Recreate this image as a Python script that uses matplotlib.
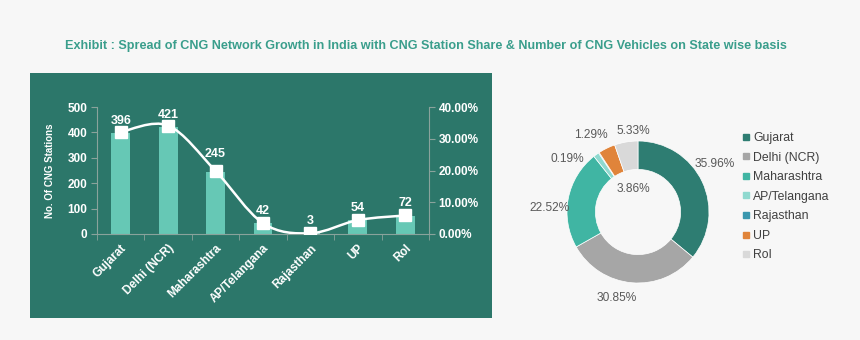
import matplotlib.pyplot as plt
import numpy as np
from matplotlib.path import Path
from matplotlib.patches import PathPatch, Rectangle
from matplotlib.lines import Line2D

# Bar chart data (CNG stations)
states = ["Gujarat", "Delhi (NCR)", "Maharashtra", "AP/Telangana", "Rajasthan", "UP", "RoI"]
stations = [396, 421, 245, 42, 3, 54, 72]
station_share = [32.12, 34.14, 19.87, 3.41, 0.24, 4.38, 5.84]

# Donut data (share of CNG vehicles)
vehicle_share = [35.96, 30.85, 22.52, 1.29, 0.19, 3.86, 5.33]
pie_colors = ["#2e7d72", "#a6a6a6", "#40b5a3", "#8fd9cf", "#3a97ae", "#e0843a", "#d9d9d9"]

BG = "#f7f7f7"
PANEL = "#2c776a"
BAR = "#66c8b5"
AXIS = "#8aa39c"

plt.rcParams["font.family"] = ["Liberation Sans", "DejaVu Sans"]

fig = plt.figure(figsize=(8.6, 3.4), dpi=100, facecolor=BG)

fig.text(426 / 860, 1 - 46 / 340,
         "Exhibit : Spread of CNG Network Growth in India with CNG Station Share & Number of CNG Vehicles on State wise basis",
         ha="center", va="center", fontsize=9.1, fontweight="bold", color="#3a9e8c")

# green panel behind the bar chart
fig.patches.append(Rectangle((30 / 860, 1 - 318 / 340), 462 / 860, 245 / 340,
                             transform=fig.transFigure, facecolor=PANEL, edgecolor="none", zorder=-10))

ax = fig.add_axes([97 / 860, 1 - 234 / 340, 332 / 860, 127 / 340])
ax.patch.set_alpha(0)
x = np.arange(len(states))
ax.bar(x, stations, width=0.4, color=BAR, zorder=2)
ax.set_xlim(-0.5, len(states) - 0.5)
ax.set_ylim(0, 500)
ax.set_yticks(range(0, 501, 100))
ax.set_xticks(x)
ax.set_xticklabels(states, rotation=45, ha="right", rotation_mode="anchor",
                   fontsize=8.5, fontweight="bold", color="white")
ax.set_xticks(np.arange(-0.5, len(states), 1), minor=True)
ax.tick_params(axis="x", which="major", length=0, pad=6)
ax.tick_params(axis="x", which="minor", length=4, color=AXIS, direction="out")
ax.tick_params(axis="y", length=4, color=AXIS, labelsize=8.5, labelcolor="white", pad=3)
for lab in ax.get_yticklabels():
    lab.set_fontweight("bold")
ax.set_ylabel("No. Of CNG Stations", fontsize=7, color="white", fontweight="bold", labelpad=9)
for side in ["top", "right"]:
    ax.spines[side].set_visible(False)
ax.spines["left"].set_color(AXIS)
ax.spines["bottom"].set_color(AXIS)

label_offsets = [9, 9, 13, 9, 9, 9, 9]
for xi, v, off in zip(x, stations, label_offsets):
    ax.annotate(str(v), (xi, v), xytext=(0, off), textcoords="offset points",
                ha="center", va="center", fontsize=9, fontweight="bold", color="white", zorder=5)

ax2 = ax.twinx()
ax2.set_ylim(0, 40)
ax2.set_yticks(range(0, 41, 10))
ax2.set_yticklabels([f"{t:.2f}%" for t in range(0, 41, 10)])
ax2.tick_params(axis="y", length=4, color=AXIS, labelsize=8.5, labelcolor="white", pad=3)
for lab in ax2.get_yticklabels():
    lab.set_fontweight("bold")
for side in ["top", "left", "bottom"]:
    ax2.spines[side].set_visible(False)
ax2.spines["right"].set_color(AXIS)

# smoothed line (Catmull-Rom as cubic Bezier segments)
pts = np.column_stack([x, station_share]).astype(float)
verts = [tuple(pts[0])]
codes = [Path.MOVETO]
for i in range(len(pts) - 1):
    p0 = pts[max(i - 1, 0)]
    p1 = pts[i]
    p2 = pts[i + 1]
    p3 = pts[min(i + 2, len(pts) - 1)]
    c1 = p1 + (p2 - p0) / 6
    c2 = p2 - (p3 - p1) / 6
    verts += [tuple(c1), tuple(c2), tuple(p2)]
    codes += [Path.CURVE4] * 3
ax2.add_patch(PathPatch(Path(verts, codes), facecolor="none", edgecolor="white", lw=1.8, zorder=3))
ax2.plot(x, station_share, linestyle="none", marker="s", markersize=8,
         markerfacecolor="white", markeredgecolor="white", zorder=4)

# donut chart
r = 71
pax = fig.add_axes([(638 - r) / 860, 1 - (212 + r) / 340, 2 * r / 860, 2 * r / 340])
pax.pie(vehicle_share, colors=pie_colors, startangle=90, counterclock=False, radius=1,
        wedgeprops=dict(width=0.4, edgecolor="white", linewidth=0.5))
pax.set_xlim(-1, 1)
pax.set_ylim(-1, 1)
pax.set_aspect("equal")
pax.axis("off")

pie_label_pos = [(1.08, 0.68), (-0.30, -1.21), (-1.24, 0.06), (-0.66, 1.08),
                 (-1.0, 0.75), (-0.07, 0.32), (-0.07, 1.14)]
for v, (lx, ly) in zip(vehicle_share, pie_label_pos):
    pax.text(lx, ly, f"{v:.2f}%", ha="center", va="center", fontsize=8.6, color="#595959",
             clip_on=False)

handles = [Line2D([], [], linestyle="none", marker="s", markersize=5,
                  markerfacecolor=c, markeredgecolor=c) for c in pie_colors]
fig.legend(handles, states, loc="upper left", bbox_to_anchor=(742 / 860, 1 - 132 / 340),
           frameon=False, fontsize=8.8, labelcolor="#404040", handlelength=0.6,
           handletextpad=0.3, labelspacing=0.62, borderaxespad=0, borderpad=0)

fig.savefig("out.png", dpi=100, facecolor=BG)
